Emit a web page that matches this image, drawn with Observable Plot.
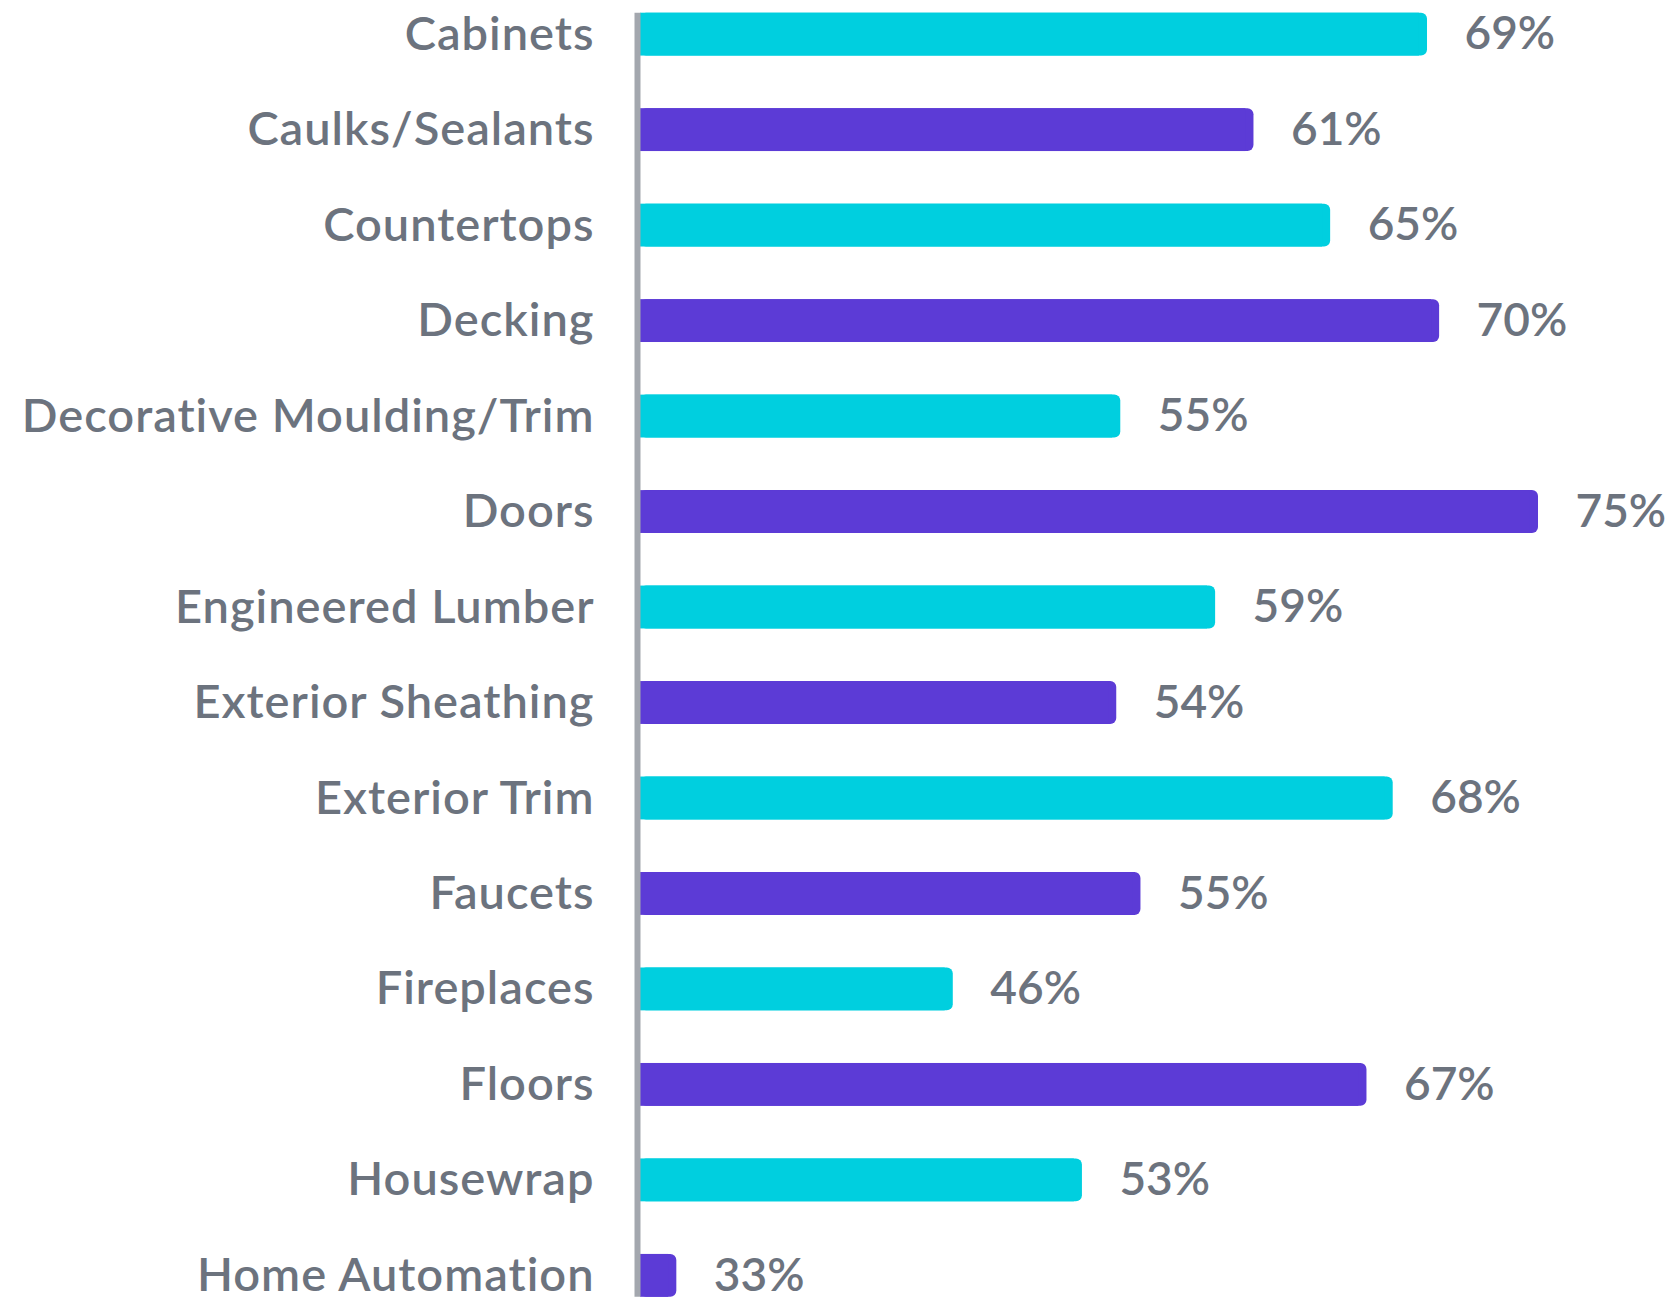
<!DOCTYPE html>
<html><head><meta charset="utf-8">
<script src="https://cdn.jsdelivr.net/npm/d3@7"></script>
<script src="https://cdn.jsdelivr.net/npm/@observablehq/plot@0.6"></script>
<style>
body{margin:0;background:#fff}
svg{font-family:Lato,"Open Sans",sans-serif}
.cat text, text.cat{letter-spacing:1px}
</style>
</head><body><div id="chart"></div>
<script>
const categories = ["Cabinets","Caulks/Sealants","Countertops","Decking","Decorative Moulding/Trim","Doors","Engineered Lumber","Exterior Sheathing","Exterior Trim","Faucets","Fireplaces","Floors","Housewrap","Home Automation"];
const values = [69.5, 60.9, 64.7, 70.1, 54.3, 75.0, 59.0, 54.1, 67.8, 55.3, 46.0, 66.5, 52.4, 32.3];
const labels = ["69%","61%","65%","70%","55%","75%","59%","54%","68%","55%","46%","67%","53%","33%"];
const series = ["A","B","A","B","A","B","A","B","A","B","A","B","A","B"];
const seriesNames = ["A","B"];
const colors = ["#00CFDF","#5C3BD6"];
const xStart = 30.5;

const data = categories.map((c,i)=>({category:c, value:values[i], label:labels[i], series:series[i]}));
const textColor = "#6C737E";

const chart = Plot.plot({
  width:1676, height:1303,
  marginLeft:640, marginRight:138, marginTop:12.7, marginBottom:6.2,
  x:{domain:[xStart,75], axis:null},
  y:{domain:categories, paddingInner:0.551, paddingOuter:0, round:false, axis:null},
  color:{domain:seriesNames, range:colors},
  marks:[
    Plot.barX(data,{x1:xStart, x2:"value", y:"category", fill:"series", rx:6}),
    Plot.barX(data,{x1:xStart, x2:d=>d.value-0.4, y:"category", fill:"series"}),
    Plot.ruleX([xStart],{stroke:"#A3A7AE", strokeWidth:6, dx:-3}),
    Plot.text(data,{x:"value", y:"category", text:"label", dx:37, textAnchor:"start", fontSize:46, fontWeight:600, fill:textColor}),
    Plot.text(data,{x:xStart, y:"category", text:"category", dx:-46, textAnchor:"end", fontSize:47, fontWeight:600, fill:textColor, className:"cat"})
  ]
});
document.getElementById("chart").appendChild(chart);
</script>
</body></html>
